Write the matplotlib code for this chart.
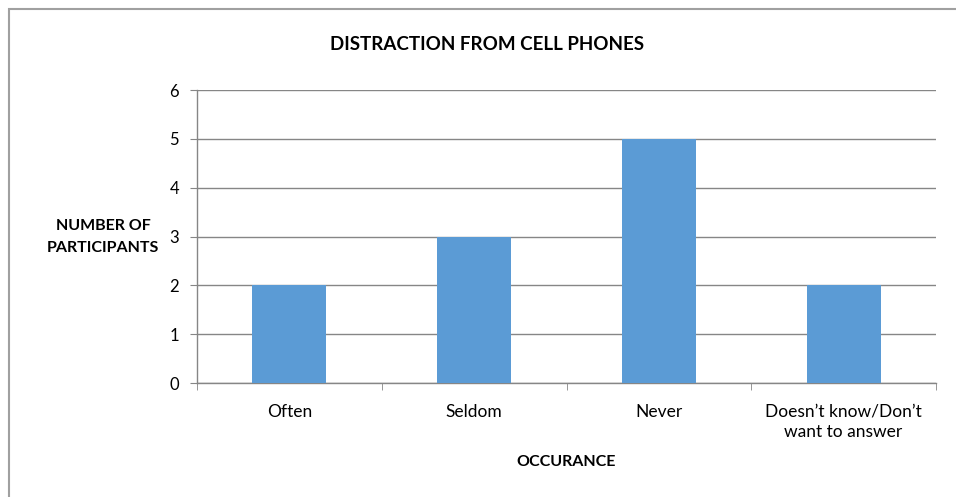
import matplotlib.pyplot as plt
from matplotlib.patches import Rectangle
import numpy as np

categories = ["Often", "Seldom", "Never", "Doesn\u2019t know/Don\u2019t\nwant to answer"]
participants = [2, 3, 5, 2]
yticks = [0, 1, 2, 3, 4, 5, 6]

plt.rcParams['font.family'] = ['Lato', 'DejaVu Sans']
grey = '#868686'
bar_color = '#5B9BD5'

fig = plt.figure(figsize=(9.56, 4.97), dpi=100)
# outer chart border
fig.patches.append(Rectangle((9/956, -0.1), 1.2, 1 - 9/497 + 0.1, transform=fig.transFigure,
                             fill=False, edgecolor='#A0A0A0', linewidth=1.5))

ax = fig.add_axes([197/956, 114/497, 739/956, 293/497])
x = np.arange(len(categories))
ax.bar(x, participants, width=0.4, color=bar_color, zorder=3)

ax.set_xlim(-0.5, len(categories) - 0.5)
ax.set_ylim(0, 6)
ax.set_yticks(yticks)
ax.grid(axis='y', color=grey, linewidth=1, zorder=0)
ax.set_axisbelow(True)

for s in ['top', 'right']:
    ax.spines[s].set_visible(False)
for s in ['left', 'bottom']:
    ax.spines[s].set_color(grey)
    ax.spines[s].set_linewidth(1)

ax.set_xticks(x)
ax.set_xticklabels(categories, fontsize=12.5, linespacing=1.3)
ax.set_xticks(np.arange(-0.5, len(categories)), minor=True)
ax.tick_params(axis='x', which='major', length=0, pad=15)
ax.tick_params(axis='x', which='minor', length=5, color=grey)
ax.tick_params(axis='y', length=5, color=grey, labelsize=12, pad=8)

fig.text(487/956, 1 - 44/497, "DISTRACTION FROM CELL PHONES", ha='center', va='center',
         fontsize=13.5, fontweight='bold')
fig.text(103/956, 1 - 237/497, "NUMBER OF\nPARTICIPANTS", ha='center', va='center',
         fontsize=11.5, fontweight='bold', linespacing=1.7)
fig.text(566/956, 1 - 462/497, "OCCURANCE", ha='center', va='center',
         fontsize=11.5, fontweight='bold')

fig.savefig('out.png', dpi=100)
